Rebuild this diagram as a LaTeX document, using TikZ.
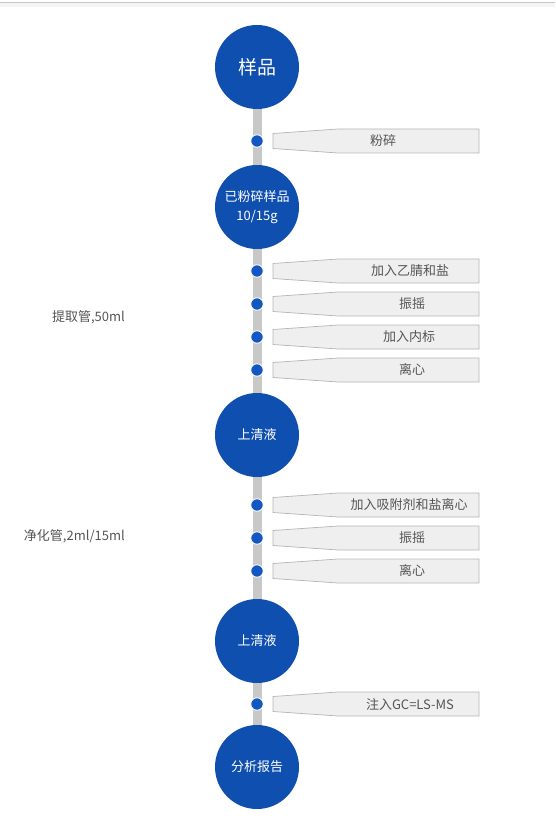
\documentclass[tikz,border=0pt]{standalone}
\usepackage{fontspec}
\setmainfont{Noto Sans CJK SC}
\usetikzlibrary{backgrounds}
\definecolor{stepblue}{HTML}{0F4FAF}
\definecolor{dotblue}{HTML}{1457C0}
\definecolor{bargray}{HTML}{C8C8C8}
\definecolor{tagfill}{HTML}{EEEFEE}
\definecolor{tagline}{HTML}{B4B4B4}
\definecolor{textgray}{HTML}{555555}
\begin{document}
\begin{tikzpicture}[x=1pt,y=-1pt,
    bignode/.style={circle,fill=stepblue,text=white,minimum size=84pt,inner sep=0pt,align=center,font=\fontsize{13}{19}\selectfont},
    dot/.style={circle,fill=dotblue,draw=white,line width=0.9pt,minimum size=12.5pt,inner sep=0pt},
    tag/.style={fill=tagfill,draw=tagline,line width=0.7pt},
    tagtext/.style={text=textgray,inner sep=0pt,font=\fontsize{13}{15}\selectfont},
    side/.style={text=textgray,anchor=east,inner sep=0pt,font=\fontsize{13}{15}\selectfont}]
  \useasboundingbox (0,0) rectangle (555,834);
  % Top rule with a faint shadow
  \fill[black!4] (0,3) rectangle (555,7);
  \draw[black!22,line width=1pt] (0,2.5) -- (555,2.5);
  % Main steps
  \node[bignode,font=\fontsize{19}{22}\selectfont] (n1) at (257,67) {样品};
  \node[bignode] (n2) at (257,207) {已粉碎样品\\10/15g};
  \node[bignode] (n3) at (257,435) {上清液};
  \node[bignode] (n4) at (257,641) {上清液};
  \node[bignode] (n5) at (257,767) {分析报告};
  % Grey bar behind the steps
  \begin{scope}[on background layer]
    \draw[bargray,line width=9pt] (n1.center) -- (n5.center);
  \end{scope}
  % Dots and tags
  \foreach \y/\name/\txt/\tx in {141/t1/粉碎/383, 271/t2/加入乙腈和盐/410, 304/t3/振摇/412,
      337/t4/加入内标/409, 370/t5/离心/412, 505/t6/加入吸附剂和盐离心/409,
      538/t7/振摇/412, 571/t8/离心/412, 704/t9/注入GC=LS-MS/410} {
    \node[dot] (d\name) at (257,\y) {};
    \filldraw[tag] (273,\y-7.5) -- (338,\y-12) -- (479,\y-12) -- (479,\y+12)
      -- (338,\y+12) -- (273,\y+7.5) -- cycle;
    \node[tagtext] (\name) at (\tx,\y) {\txt};
  }
  % Tube labels
  \node[side] (s1) at (125,317) {提取管,50ml};
  \node[side] (s2) at (125,536) {净化管,2ml/15ml};
\end{tikzpicture}
\end{document}
